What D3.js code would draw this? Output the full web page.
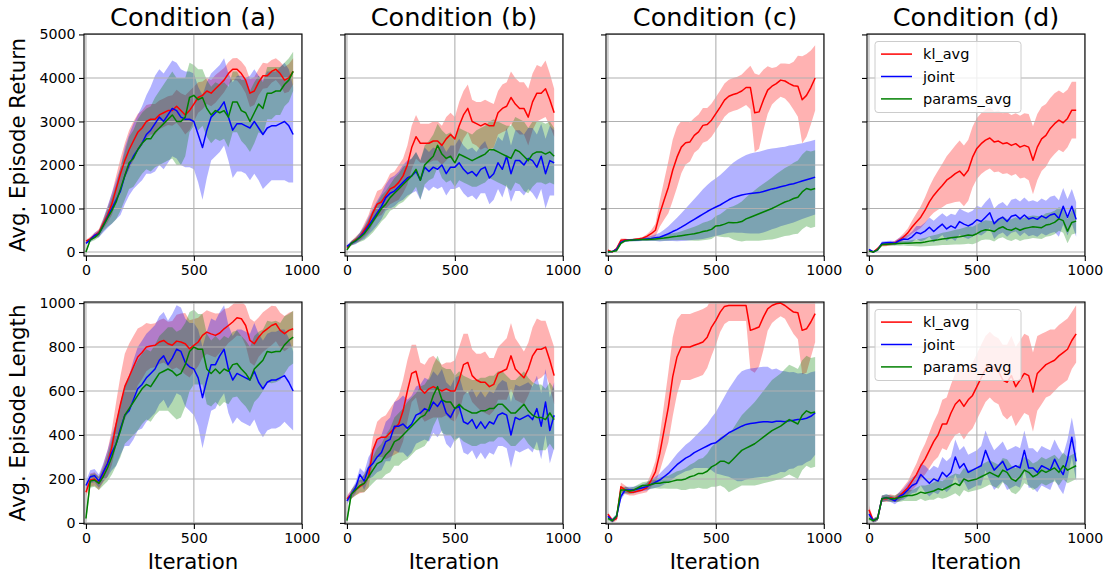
<!DOCTYPE html>
<html><head><meta charset="utf-8">
<script src="https://cdn.jsdelivr.net/npm/d3@7"></script>
<style>body{margin:0;background:#fff}</style>
</head><body>
<svg id="chart" width="1117" height="578"></svg>
<script>
// ---------------- DATA ----------------
const iterations = [0,20,40,60,80,100,120,140,160,180,200,220,240,260,280,300,320,340,360,380,400,420,440,460,480,500,520,540,560,580,600,620,640,660,680,700,720,740,760,780,800,820,840,860,880,900,920,940,960];
const seriesNames = ["kl_avg","joint","params_avg"];
const conditionTitles = ["Condition (a)","Condition (b)","Condition (c)","Condition (d)"];
const rowLabels = ["Avg. Episode Return","Avg. Episode Length"];
const xTickValues = [0,500,1000];
const returnTicks = [0,1000,2000,3000,4000,5000];
const lengthTicks = [0,200,400,600,800,1000];

// Row 1: Avg. Episode Return (mean, sd)
const retA_kl = [250,300,380,450,650,850,1100,1450,1800,2100,2350,2550,2750,2850,3000,3050,3050,3150,3200,3250,3250,3350,3250,3150,3250,3400,3550,3600,3700,3650,3750,3850,3950,4100,4200,4200,4100,3950,3650,3700,3900,4050,4050,4150,4200,4100,3950,4000,4150];
const retA_kl_sd = [30,50,60,80,120,180,250,300,350,400,450,450,420,400,380,350,350,330,330,330,350,380,400,450,450,400,350,320,300,300,320,300,280,260,250,260,280,300,320,320,300,300,280,260,250,270,300,320,300];
const retA_joint = [200,280,380,420,600,800,1000,1200,1400,1750,2000,2200,2350,2500,2700,2800,2950,3100,3000,3150,3300,3250,3100,3050,3050,3000,2700,2400,2800,3100,3200,3300,3450,3100,2800,2950,2950,2900,2850,3000,2850,2700,2850,2900,2900,2950,3000,2900,2700];
const retA_joint_sd = [30,50,60,80,150,250,350,450,550,650,700,750,800,850,900,1000,1100,1100,1100,1100,1100,1100,1100,1100,1100,1100,1100,1200,1100,1000,1000,1000,1000,1000,1100,1100,1100,1100,1200,1200,1200,1250,1300,1250,1250,1300,1350,1300,1100];
const retA_params = [0,280,330,420,600,780,950,1150,1450,1750,2050,2150,2350,2500,2600,2600,2750,2850,2950,3050,3150,3000,3000,3100,3550,3600,3500,3550,3300,3150,3250,3200,3250,3100,3450,3450,3250,3200,3000,3200,3400,3300,3650,3650,3700,3700,3850,3950,4150];
const retA_params_sd = [30,50,60,80,120,200,300,400,500,550,600,650,700,700,700,750,800,850,900,950,1000,1000,1000,900,800,700,700,650,650,650,650,650,650,700,700,700,700,750,700,700,650,600,600,600,550,550,500,500,450];

const retB_kl = [100,200,280,350,500,650,900,1100,1150,1300,1450,1500,1600,1750,2000,2400,2650,2500,2500,2500,2550,2550,2450,2600,2700,2600,2900,3150,3300,3000,2950,2900,2950,2900,2900,3200,3300,3350,3550,3400,3300,3300,3100,3450,3650,3650,3750,3500,3200];
const retB_kl_sd = [30,50,70,100,150,200,250,300,300,300,350,350,400,400,450,500,500,450,450,450,450,450,450,500,500,500,550,550,550,500,500,550,550,550,500,500,550,550,600,600,600,600,650,650,650,600,650,600,550];
const retB_joint = [130,200,250,350,450,600,750,900,1050,1250,1350,1400,1500,1600,1700,1750,1850,1650,1950,1850,1950,1900,2000,1800,1950,1950,2050,1900,1800,1850,1750,1900,1950,1700,1800,2050,1900,2200,1800,2100,2100,2000,2150,2100,1950,2200,1800,2100,2050];
const retB_joint_sd = [30,50,70,100,150,200,250,280,300,300,350,350,350,400,400,400,450,450,450,450,450,450,500,500,500,500,550,550,550,550,550,550,600,600,600,600,650,650,650,700,700,700,700,750,750,750,800,800,750];
const retB_params = [50,200,260,330,420,550,700,850,1000,1100,1250,1350,1450,1550,1650,1750,1900,1650,2000,2100,2200,2450,2250,2150,2200,2050,2250,2200,2150,2100,2150,2200,2250,2350,2350,2300,2250,2200,2150,2350,2300,2200,2100,2250,2300,2300,2250,2300,2200];
const retB_params_sd = [30,50,70,100,150,200,250,280,300,300,300,350,350,400,400,400,400,450,450,450,500,500,550,550,550,550,600,600,600,600,650,650,650,650,700,700,700,700,750,750,750,800,750,750,700,700,700,700,650];

const retC_kl = [40,0,80,270,280,270,285,300,315,360,420,500,880,1190,1490,1880,2180,2410,2510,2530,2680,2760,2910,2930,3030,3180,3330,3490,3580,3620,3650,3700,3780,3780,3200,3220,3490,3720,3810,3870,3950,3930,3870,3820,3810,3500,3600,3780,4000];
const retC_kl_sd = [20,20,30,40,30,20,20,20,30,50,80,150,300,450,600,700,700,600,500,450,400,400,400,380,380,380,380,380,380,380,380,380,400,500,900,850,700,550,420,380,380,400,450,550,700,1000,950,850,750];
const retC_joint = [0,10,60,220,265,270,275,280,290,300,310,325,340,380,420,470,515,570,630,690,750,810,870,930,985,1035,1080,1140,1200,1250,1280,1310,1330,1345,1355,1365,1390,1420,1450,1470,1500,1520,1550,1570,1600,1630,1660,1690,1720];
const retC_joint_sd = [10,10,20,30,30,30,30,35,40,50,60,75,100,130,170,220,270,320,370,420,470,520,570,610,640,660,690,720,760,800,840,870,900,920,930,940,940,940,930,920,910,900,900,890,880,870,870,860,860];
const retC_params = [0,10,30,200,260,270,275,280,285,290,295,300,310,320,335,350,360,375,390,405,420,440,470,490,520,600,610,640,680,670,680,700,760,800,840,880,920,960,1000,1050,1100,1150,1180,1230,1260,1380,1460,1430,1460];
const retC_params_sd = [10,10,20,30,30,30,30,30,30,35,40,45,50,60,70,80,90,100,120,140,160,180,200,210,220,230,260,300,340,380,420,460,500,540,580,620,650,680,710,740,760,780,800,820,840,860,870,880,880];

const retD_kl = [40,0,80,170,170,190,210,270,345,440,575,690,800,960,1150,1300,1420,1530,1650,1720,1800,1860,1750,1880,2180,2380,2490,2570,2620,2530,2550,2490,2510,2450,2490,2410,2450,2410,2110,2410,2600,2680,2840,2950,3030,2970,3070,3260,3260];
const retD_kl_sd = [20,20,30,40,40,40,50,60,80,100,150,200,250,300,350,400,450,500,550,600,650,700,700,700,700,700,700,700,700,700,700,700,700,700,700,720,740,760,780,760,740,720,700,700,680,680,660,650,650];
const retD_joint = [60,0,50,200,210,220,200,260,300,290,350,450,420,480,570,470,560,640,530,600,550,700,640,600,650,740,700,800,900,650,750,800,700,820,850,760,850,760,790,750,830,780,850,880,770,1050,800,1050,750];
const retD_joint_sd = [20,20,30,40,40,40,50,60,80,100,120,150,180,200,220,250,250,250,280,280,300,300,300,300,300,320,320,350,350,350,350,350,350,380,380,400,400,400,400,400,400,400,420,420,420,420,420,400,400];
const retD_params = [20,0,50,170,180,185,190,195,200,200,205,210,215,230,250,265,280,300,310,325,340,350,370,390,380,420,480,510,500,470,540,580,520,500,550,500,540,560,580,570,560,620,640,680,760,720,480,680,710];
const retD_params_sd = [20,20,30,40,40,40,40,50,50,60,70,80,90,100,110,120,130,140,150,160,170,180,190,200,200,210,210,220,220,230,230,240,240,250,250,250,250,260,260,260,260,270,270,270,270,280,280,280,280];

// Row 2: Avg. Episode Length (mean, sd)
const lenA_kl = [140,195,200,180,225,270,345,450,540,620,665,710,755,775,800,805,808,823,830,815,808,827,823,815,792,808,823,853,868,860,853,864,883,898,914,933,929,898,830,815,845,868,883,898,906,876,861,876,883];
const lenA_kl_sd = [20,30,30,30,40,60,80,100,130,150,150,140,130,120,110,100,100,100,100,100,110,120,130,140,130,120,110,100,100,100,100,90,90,80,80,80,80,90,100,100,90,90,90,90,80,80,80,80,80];
const lenA_joint = [170,210,215,190,230,270,320,360,430,490,510,560,610,630,660,680,700,740,760,720,750,790,780,730,710,700,660,570,650,720,720,760,790,700,650,680,670,660,650,690,640,610,640,650,650,660,670,640,600];
const lenA_joint_sd = [20,30,30,30,40,60,80,100,120,140,160,180,190,200,200,200,200,200,200,200,200,200,200,200,200,210,220,230,220,210,200,200,200,200,200,200,210,210,210,220,220,220,220,220,220,220,210,200,180];
const lenA_params = [20,190,195,180,210,250,300,360,420,490,520,550,580,610,630,620,650,680,690,700,690,670,680,720,780,800,790,790,700,680,700,680,700,690,720,725,700,680,650,700,720,740,780,775,780,780,810,830,845];
const lenA_params_sd = [20,30,30,30,40,60,80,100,120,130,140,150,160,160,160,160,160,170,180,190,200,200,200,190,180,170,160,160,160,150,150,150,150,150,150,150,150,150,150,150,150,140,140,140,140,130,130,120,120];

const lenB_kl = [110,130,150,165,180,210,330,380,390,390,410,430,450,510,600,680,690,610,590,610,620,610,600,610,600,600,650,720,730,670,650,640,640,620,630,680,690,700,760,700,680,660,700,760,790,790,800,740,670];
const lenB_kl_sd = [15,20,25,30,40,50,60,80,90,100,110,120,130,140,140,130,120,120,130,140,140,130,120,120,130,140,150,140,130,120,120,130,140,130,120,120,130,140,150,140,130,120,120,130,140,130,120,120,130];
const lenB_joint = [100,130,160,220,190,250,270,300,320,370,380,440,440,450,430,450,490,500,520,510,550,530,560,500,480,520,530,460,450,470,430,460,430,460,450,490,500,490,400,480,470,480,490,470,520,440,550,420,490];
const lenB_joint_sd = [15,20,25,30,40,50,60,70,80,90,100,110,120,130,130,130,130,130,140,140,140,140,140,140,140,140,140,140,140,140,140,140,140,140,140,140,150,150,150,150,150,150,150,150,150,150,150,150,150];
const lenB_params = [10,130,150,170,180,210,240,270,280,310,330,370,380,400,420,440,460,480,490,520,580,620,560,550,550,520,540,520,510,500,500,510,510,520,520,540,540,520,500,500,520,540,510,490,480,480,470,500,470];
const lenB_params_sd = [15,20,25,30,40,50,60,70,80,90,100,110,120,120,130,130,130,140,140,140,140,140,150,150,150,150,150,150,150,150,150,150,150,150,150,150,150,150,150,150,150,150,150,150,150,150,140,140,140];

const lenC_kl = [40,10,20,164,150,140,140,145,150,160,194,232,315,421,527,664,755,800,800,800,808,815,823,845,891,921,959,985,989,989,989,989,989,876,883,891,936,974,989,997,1000,989,974,959,956,876,883,914,952];
const lenC_kl_sd = [10,10,10,20,20,15,15,15,15,20,30,50,80,120,160,180,170,150,150,150,150,150,150,140,130,110,90,80,70,70,70,70,70,180,200,180,150,100,80,70,60,60,80,100,120,200,200,160,130];
const lenC_joint = [30,10,30,120,150,150,150,155,160,165,175,185,195,210,225,245,265,280,295,305,320,330,340,350,360,365,380,395,410,420,430,440,448,452,455,458,460,460,458,462,462,460,465,467,470,472,476,485,500];
const lenC_joint_sd = [10,10,10,15,15,15,15,15,15,18,20,25,30,35,40,45,50,55,60,65,70,80,90,100,120,140,160,180,200,220,240,250,250,250,250,250,250,250,240,240,230,230,220,220,210,210,200,200,190];
const lenC_params = [20,10,30,150,150,145,150,160,170,170,175,180,180,185,185,190,195,195,200,210,215,225,225,235,255,265,280,280,270,290,310,330,340,350,360,375,390,405,420,430,440,455,470,460,450,490,510,500,505];
const lenC_params_sd = [10,10,10,15,15,15,15,15,15,18,20,22,25,28,30,35,40,45,50,55,60,65,70,80,90,100,110,120,130,140,150,160,170,180,190,200,210,220,230,235,240,245,250,250,250,250,250,250,250];

const lenD_kl = [60,10,20,110,110,115,110,120,140,160,190,220,260,290,330,370,400,450,450,500,540,560,530,560,580,620,660,700,720,700,690,650,640,670,620,650,680,670,595,680,700,720,730,740,760,775,790,830,860];
const lenD_kl_sd = [20,10,10,15,15,15,15,20,25,30,40,50,60,70,80,90,100,110,120,130,140,150,150,150,150,150,150,150,150,150,150,160,170,180,180,180,180,180,180,170,160,150,150,140,140,140,140,130,130];
const lenD_joint = [40,10,20,110,115,110,100,120,130,150,170,180,220,200,180,200,190,230,210,230,300,250,270,230,240,250,260,330,280,240,260,280,240,250,260,250,330,250,250,230,260,250,240,290,250,220,290,390,280];
const lenD_joint_sd = [15,10,10,15,15,15,15,20,25,30,35,40,50,60,60,60,60,70,70,70,80,80,80,80,80,80,90,90,90,90,90,90,90,90,90,90,90,90,90,90,90,90,90,90,90,90,90,90,90];
const lenD_params = [20,10,20,110,115,110,110,115,120,125,125,130,140,135,140,145,155,150,160,170,180,170,200,190,195,200,210,220,230,220,210,240,230,200,190,210,240,230,210,220,240,230,240,250,230,260,240,250,260];
const lenD_params_sd = [10,10,10,15,15,15,15,20,20,25,25,30,30,35,35,40,40,40,45,45,45,50,50,50,50,50,55,55,55,55,55,55,60,60,60,60,60,60,60,60,60,60,60,60,60,60,60,60,60];

// ---------------- LAYOUT / STYLE ----------------
const FONT = '"DejaVu Sans", sans-serif';
const colors = ["#ff0000", "#0000ff", "#008000"];
const panelLefts = [84, 345, 606, 867];
const rowTops = [34, 302];
const pw = 218, ph = 222;
const xDomain = [-9, 1001];
const yDomains = [[-92, 5010], [-5, 1005]];
const yTickSets = [returnTicks, lengthTicks];

const panels = [
  [[retA_kl, retA_kl_sd], [retA_joint, retA_joint_sd], [retA_params, retA_params_sd]],
  [[retB_kl, retB_kl_sd], [retB_joint, retB_joint_sd], [retB_params, retB_params_sd]],
  [[retC_kl, retC_kl_sd], [retC_joint, retC_joint_sd], [retC_params, retC_params_sd]],
  [[retD_kl, retD_kl_sd], [retD_joint, retD_joint_sd], [retD_params, retD_params_sd]],
  [[lenA_kl, lenA_kl_sd], [lenA_joint, lenA_joint_sd], [lenA_params, lenA_params_sd]],
  [[lenB_kl, lenB_kl_sd], [lenB_joint, lenB_joint_sd], [lenB_params, lenB_params_sd]],
  [[lenC_kl, lenC_kl_sd], [lenC_joint, lenC_joint_sd], [lenC_params, lenC_params_sd]],
  [[lenD_kl, lenD_kl_sd], [lenD_joint, lenD_joint_sd], [lenD_params, lenD_params_sd]]
];

const svg = d3.select("#chart");
const defs = svg.append("defs");

panels.forEach((series, i) => {
  const row = Math.floor(i / 4), col = i % 4;
  const left = panelLefts[col], top = rowTops[row];
  const xs = d3.scaleLinear().domain(xDomain).range([left, left + pw]);
  const ys = d3.scaleLinear().domain(yDomains[row]).range([top + ph, top]);

  defs.append("clipPath").attr("id", "clip" + i)
    .append("rect").attr("x", left).attr("y", top).attr("width", pw).attr("height", ph);

  const g = svg.append("g");
  const plot = g.append("g").attr("clip-path", `url(#clip${i})`);

  // shaded bands (mean ± sd)
  series.forEach(([mean, sd], k) => {
    const area = d3.area()
      .x((d, j) => xs(iterations[j]))
      .y0((d, j) => ys(mean[j] - sd[j]))
      .y1((d, j) => ys(mean[j] + sd[j]));
    plot.append("path").datum(mean).attr("d", area)
      .attr("fill", colors[k]).attr("fill-opacity", 0.3).attr("stroke", "none");
  });

  // grid
  const grid = plot.append("g");
  xTickValues.forEach(v => grid.append("line")
    .attr("x1", xs(v)).attr("x2", xs(v)).attr("y1", top).attr("y2", top + ph)
    .attr("stroke", "#b0b0b0").attr("stroke-width", 1.1));
  yTickSets[row].forEach(v => grid.append("line")
    .attr("x1", left).attr("x2", left + pw).attr("y1", ys(v)).attr("y2", ys(v))
    .attr("stroke", "#b0b0b0").attr("stroke-width", 1.1));

  // mean lines
  series.forEach(([mean], k) => {
    const line = d3.line().x((d, j) => xs(iterations[j])).y(d => ys(d));
    plot.append("path").datum(mean).attr("d", line)
      .attr("fill", "none").attr("stroke", colors[k]).attr("stroke-width", 1.5)
      .attr("stroke-linejoin", "round");
  });

  // axes
  const xAxis = d3.axisBottom(xs).tickValues(xTickValues).tickSize(5).tickPadding(3.5)
    .tickFormat(d3.format("d"));
  const yAxis = d3.axisLeft(ys).tickValues(yTickSets[row]).tickSize(5).tickPadding(3.5)
    .tickFormat(col === 0 ? d3.format("d") : () => "");
  const ax = g.append("g").attr("transform", `translate(0,${top + ph})`).call(xAxis);
  const ay = g.append("g").attr("transform", `translate(${left},0)`).call(yAxis);
  [ax, ay].forEach(a => {
    a.select(".domain").remove();
    a.selectAll(".tick line").attr("stroke", "#000").attr("stroke-width", 1.1);
    a.selectAll(".tick text").attr("fill", "#000").style("font-family", FONT).style("font-size", "14.2px");
  });

  // frame
  g.append("rect").attr("x", left).attr("y", top).attr("width", pw).attr("height", ph)
    .attr("fill", "none").attr("stroke", "#000").attr("stroke-width", 1.1);

  // titles / labels
  if (row === 0) {
    g.append("text").attr("x", left + pw / 2).attr("y", 26).attr("text-anchor", "middle")
      .style("font-family", FONT).style("font-size", "25.6px").text(conditionTitles[col]);
  }
  if (row === 1) {
    g.append("text").attr("x", left + pw / 2).attr("y", 569).attr("text-anchor", "middle")
      .style("font-family", FONT).style("font-size", "21.3px").text("Iteration");
  }
  if (col === 0) {
    g.append("text").attr("transform", `translate(25,${top + ph / 2}) rotate(-90)`)
      .attr("text-anchor", "middle")
      .style("font-family", FONT).style("font-size", "21.3px").text(rowLabels[row]);
  }

  // legend
  if (col === 3) {
    const lg = g.append("g").attr("transform", `translate(${left + 8},${top + 7.5})`);
    lg.append("rect").attr("width", 146).attr("height", 71).attr("rx", 3)
      .attr("fill", "#fff").attr("fill-opacity", 0.8).attr("stroke", "#cccccc").attr("stroke-width", 1);
    seriesNames.forEach((name, k) => {
      const yy = 12.6 + k * 22.4;
      lg.append("line").attr("x1", 6).attr("x2", 37).attr("y1", yy).attr("y2", yy)
        .attr("stroke", colors[k]).attr("stroke-width", 1.5);
      lg.append("text").attr("x", 48).attr("y", yy).attr("dy", "0.35em")
        .style("font-family", FONT).style("font-size", "14.5px").text(name);
    });
  }
});
</script>
</body></html>
